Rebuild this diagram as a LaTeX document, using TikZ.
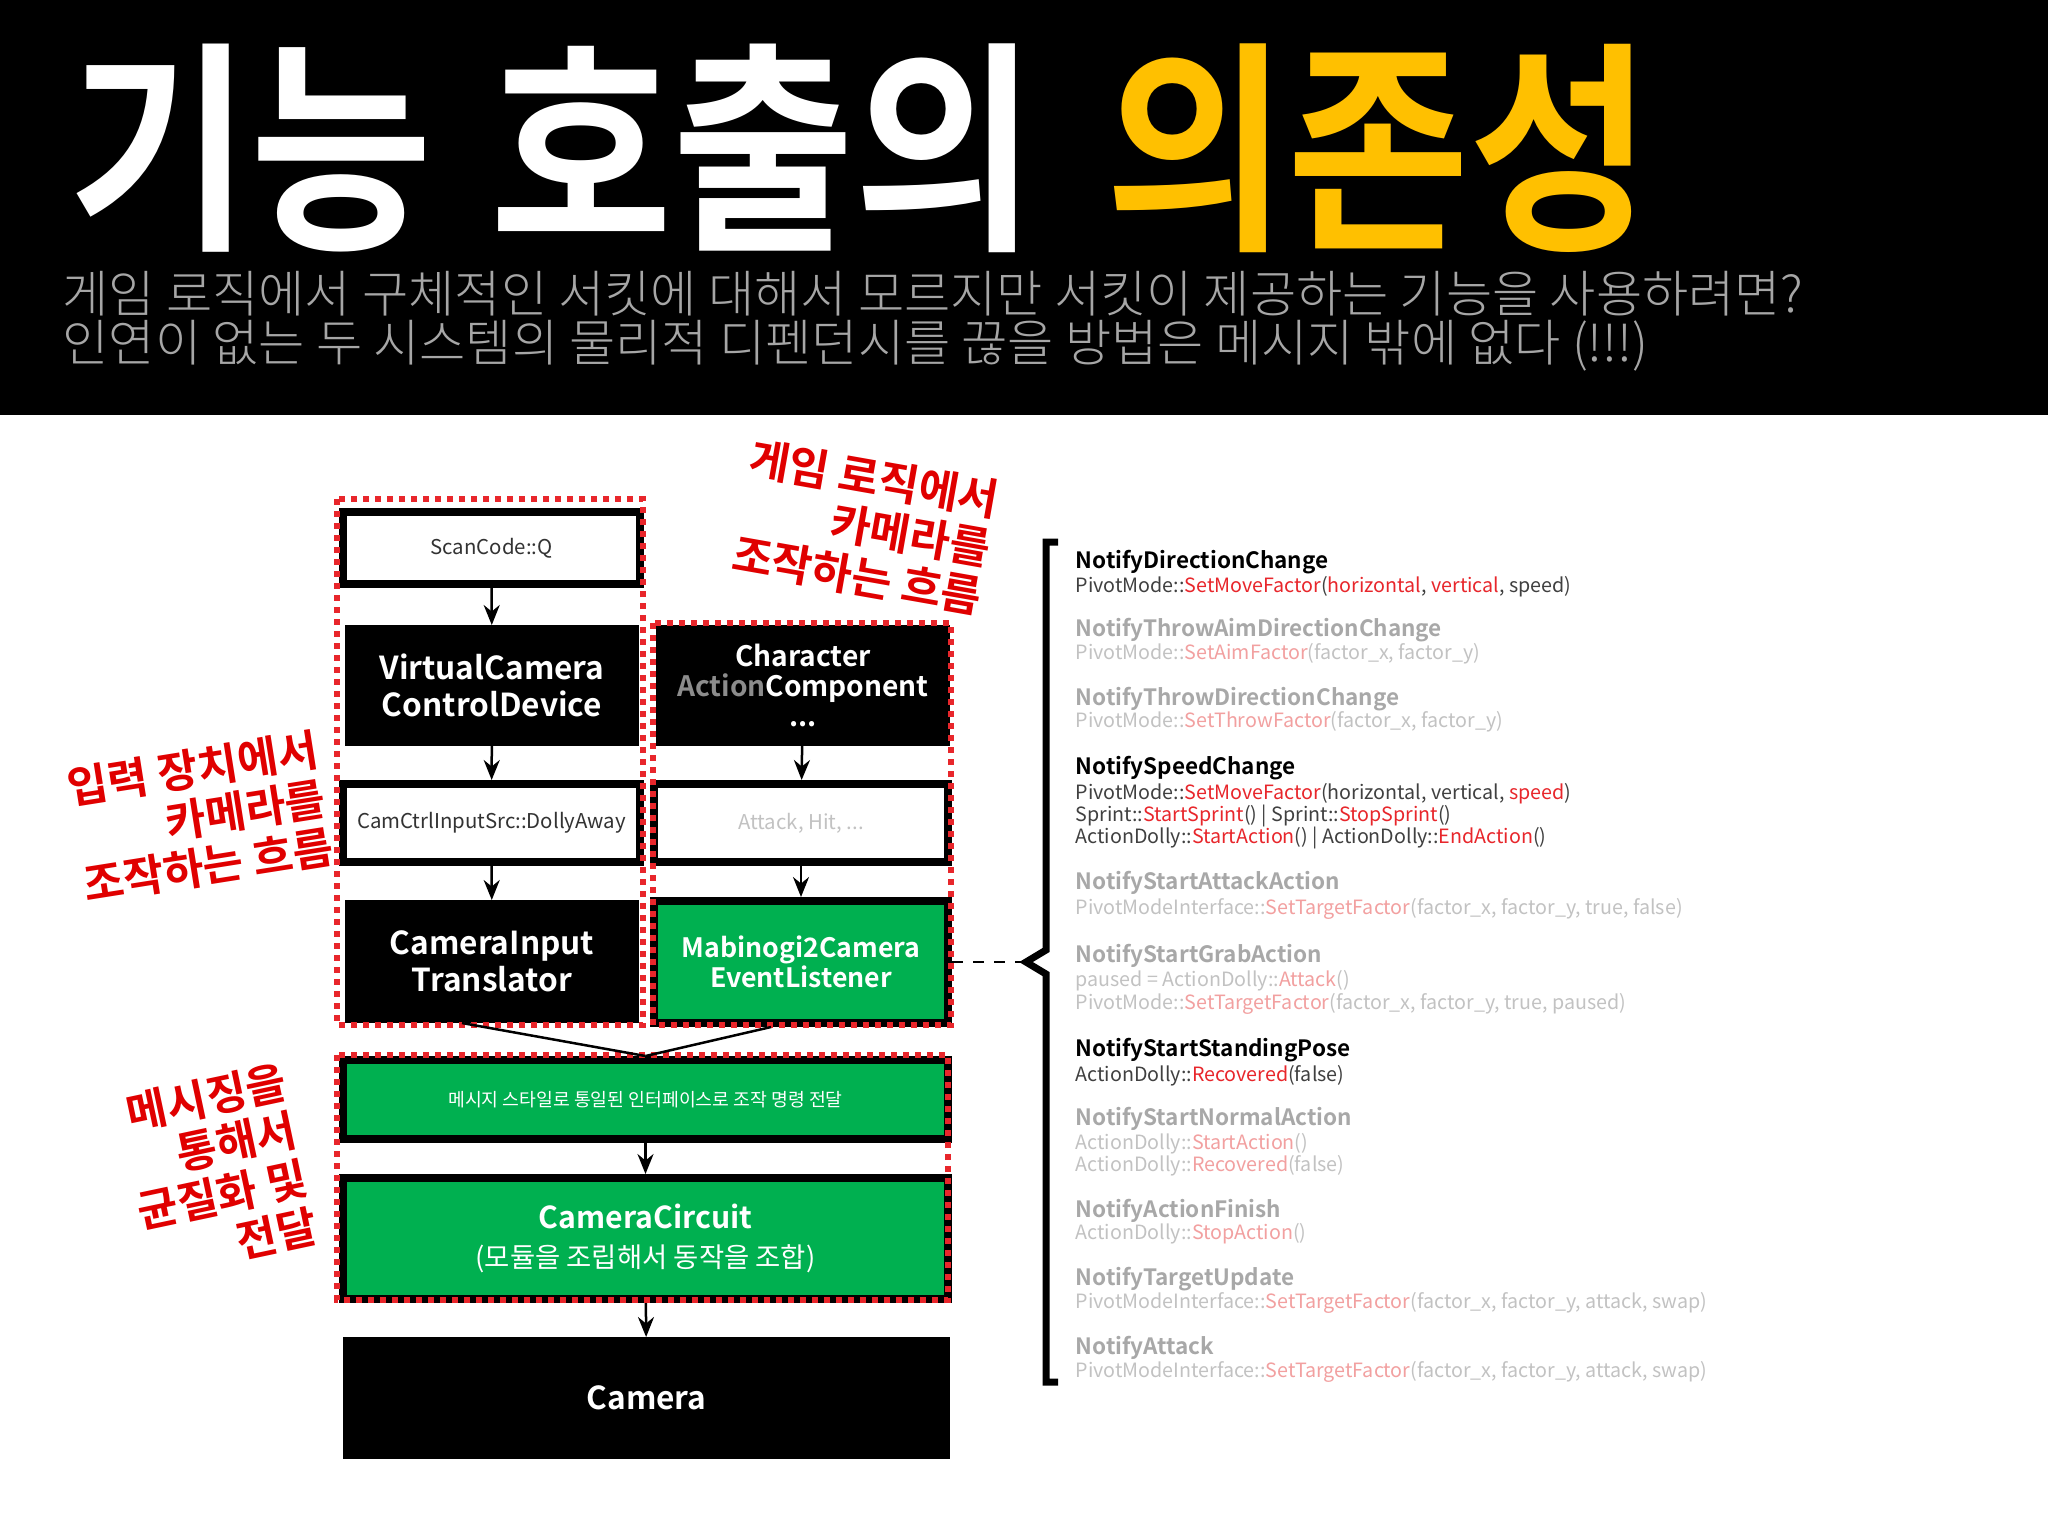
\documentclass[tikz,border=0pt]{standalone}
\usepackage{fontspec}
\setmainfont{Noto Sans CJK KR}[BoldFont={* Bold}]
\newfontfamily\krlight{Noto Sans CJK KR Light}
\usetikzlibrary{arrows.meta}
\definecolor{myred}{HTML}{E8262B}
\definecolor{annred}{HTML}{E00000}
\definecolor{mygreen}{HTML}{00B050}
\definecolor{myyellow}{HTML}{FFC000}
\definecolor{blurgray}{HTML}{A8A8A8}
\definecolor{blurred}{HTML}{F2A0A0}
\newcommand\rd[1]{\textcolor{myred}{#1}}
\newcommand\br[1]{\textcolor{blurred}{#1}}
\tikzset{
 blk/.style={draw=black,fill=black,text=white,font=\bfseries\fontsize{9}{10.5}\selectfont,align=center,inner sep=0,line width=0.8mm},
 wht/.style={draw=black,fill=white,text=black!80,font=\fontsize{5.8}{7}\selectfont,align=center,inner sep=0,line width=0.8mm},
 grn/.style={draw=black,fill=mygreen,text=white,align=center,inner sep=0,line width=0.8mm},
 reddot/.style={draw=myred,line width=0.55mm,dash pattern=on 0.6mm off 0.6mm},
 arr/.style={-{Stealth[length=2mm,width=1.6mm]},line width=0.25mm},
 ann/.style={text=annred,font=\bfseries\fontsize{12.5}{14}\selectfont,align=right,inner sep=0},
 ttl/.style={anchor=base west,inner sep=0,font=\bfseries\fontsize{6.4}{8}\selectfont},
 sub/.style={anchor=base west,inner sep=0,font=\fontsize{5.6}{7}\selectfont,text=black!75},
 bttl/.style={ttl,text=blurgray},
 bsub/.style={sub,text=blurgray!70},
}
\begin{document}
\begin{tikzpicture}[x=0.1mm,y=-0.1mm]
\useasboundingbox (0,0) rectangle (2048,1536);
\fill[white] (0,0) rectangle (2048,1536);
\fill[black] (0,0) rectangle (2048,415);
% title
\node[anchor=base west,inner sep=0,text=white] (t1) at (68,232) {\scalebox{0.88}[1]{\bfseries\fontsize{64}{64}\selectfont 기능}};
\node[anchor=base west,inner sep=0,text=white] (t2) at (490,232) {\scalebox{0.88}[1]{\bfseries\fontsize{64}{64}\selectfont 호출의}};
\node[anchor=base west,inner sep=0,text=myyellow] (t3) at (1105,232) {\scalebox{0.88}[1]{\bfseries\fontsize{64}{64}\selectfont 의존성}};
\node[anchor=base west,inner sep=0,text=black!35,align=left] (s1) at (62,312) {\krlight\fontsize{14.3}{15}\selectfont 게임 로직에서 구체적인 서킷에 대해서 모르지만 서킷이 제공하는 기능을 사용하려면?};
\node[anchor=base west,inner sep=0,text=black!35,align=left] (s2) at (62,361) {\krlight\fontsize{14.3}{15}\selectfont 인연이 없는 두 시스템의 물리적 디펜던시를 끊을 방법은 메시지 밖에 없다 (!!!)};
% boxes
\node[wht,minimum width=29.7mm,minimum height=7.2mm] (scan) at (491.5,548) {ScanCode::Q};
\node[blk,minimum width=28.6mm,minimum height=11.3mm] (vcam) at (492,685.5) {VirtualCamera\\ControlDevice};
\node[wht,minimum width=29.7mm,minimum height=7.8mm] (cci) at (491.5,823) {CamCtrlInputSrc::DollyAway};
\node[blk,minimum width=28.6mm,minimum height=11.5mm] (cit) at (492,961.5) {CameraInput\\Translator};
\node[blk,minimum width=28.6mm,minimum height=11.3mm,font=\bfseries\fontsize{8}{8.6}\selectfont] (chr) at (803,685.5) {Character\\\textcolor{white!55!black}{Action}Component\\...};
\node[wht,minimum width=29.4mm,minimum height=7.8mm,text=blurgray!70] (atk) at (801,823) {Attack, Hit, ...};
\node[grn,minimum width=29.4mm,minimum height=12.2mm,font=\bfseries\fontsize{7.6}{8.6}\selectfont] (mab) at (801,962) {Mabinogi2Camera\\EventListener};
\node[grn,minimum width=60.5mm,minimum height=7.9mm,font=\fontsize{5.2}{6}\selectfont] (msg) at (645.5,1099.5) {메시지 스타일로 통일된 인터페이스로 조작 명령 전달};
\node[grn,minimum width=60.5mm,minimum height=12.1mm] (cc) at (645.5,1238.5) {{\bfseries\fontsize{8.6}{9.5}\selectfont CameraCircuit}\\[-1pt]{\fontsize{7.8}{9}\selectfont (모듈을 조립해서 동작을 조합)}};
\node[blk,minimum width=59.9mm,minimum height=11.4mm] (cam) at (646.5,1398) {Camera};
% red dotted frames
\draw[reddot] (337,499) rectangle (643,1025);
\draw[reddot] (653,623) rectangle (951,1025);
\draw[reddot] (337,1055) rectangle (948,1300);
% arrows
\draw[arr] (scan) -- (vcam);
\draw[arr] (vcam) -- (cci);
\draw[arr] (cci) -- (cit);
\draw[arr] (chr) -- (atk);
\draw[arr] (atk) -- (mab);
\path (cit.south) ++(-30,0) coordinate (ca) (mab.south) ++(-30,0) coordinate (ma);
\draw[line width=0.25mm] (ca) -- (msg.north);
\draw[line width=0.25mm] (ma) -- (msg.north);
\draw[arr] (msg) -- (cc);
\draw[arr] (cc) -- (cam);
% bracket
\coordinate (bt) at (1058,542);
\coordinate (bm) at (1026,962);
\coordinate (bb) at (1058,1382);
\draw[line width=0.7mm] (bt) -- (1046,542) -- (1046,950) -- (bm) -- (1046,974) -- (1046,1382) -- (bb);
\draw[dashed,line width=0.2mm] (mab.east) -- (bm);
% right list
\node[ttl] (n1) at (1075,568) {NotifyDirectionChange};
\node[sub] (n1a) at (1075,592) {PivotMode::\rd{SetMoveFactor}(\rd{horizontal}, \rd{vertical}, speed)};
\node[bttl] (n2) at (1075,636) {NotifyThrowAimDirectionChange};
\node[bsub] (n2a) at (1075,659) {PivotMode::\br{SetAimFactor}(factor\_x, factor\_y)};
\node[bttl] (n3) at (1075,705) {NotifyThrowDirectionChange};
\node[bsub] (n3a) at (1075,727) {PivotMode::\br{SetThrowFactor}(factor\_x, factor\_y)};
\node[ttl] (n4) at (1075,774) {NotifySpeedChange};
\node[sub] (n4a) at (1075,799) {PivotMode::\rd{SetMoveFactor}(horizontal, vertical, \rd{speed})};
\node[sub] (n4b) at (1075,821) {Sprint::\rd{StartSprint}() | Sprint::\rd{StopSprint}()};
\node[sub] (n4c) at (1075,843) {ActionDolly::\rd{StartAction}() | ActionDolly::\rd{EndAction}()};
\node[bttl] (n5) at (1075,889) {NotifyStartAttackAction};
\node[bsub] (n5a) at (1075,914) {PivotModeInterface::\br{SetTargetFactor}(factor\_x, factor\_y, true, false)};
\node[bttl] (n6) at (1075,962) {NotifyStartGrabAction};
\node[bsub] (n6a) at (1075,986) {paused = ActionDolly::\br{Attack}()};
\node[bsub] (n6b) at (1075,1009) {PivotMode::\br{SetTargetFactor}(factor\_x, factor\_y, true, paused)};
\node[ttl] (n7) at (1075,1056) {NotifyStartStandingPose};
\node[sub] (n7a) at (1075,1081) {ActionDolly::\rd{Recovered}(false)};
\node[bttl] (n8) at (1075,1125) {NotifyStartNormalAction};
\node[bsub] (n8a) at (1075,1149) {ActionDolly::\br{StartAction}()};
\node[bsub] (n8b) at (1075,1171) {ActionDolly::\br{Recovered}(false)};
\node[bttl] (n9) at (1075,1217) {NotifyActionFinish};
\node[bsub] (n9a) at (1075,1239) {ActionDolly::\br{StopAction}()};
\node[bttl] (n10) at (1075,1285) {NotifyTargetUpdate};
\node[bsub] (n10a) at (1075,1308) {PivotModeInterface::\br{SetTargetFactor}(factor\_x, factor\_y, attack, swap)};
\node[bttl] (n11) at (1075,1354) {NotifyAttack};
\node[bsub] (n11a) at (1075,1377) {PivotModeInterface::\br{SetTargetFactor}(factor\_x, factor\_y, attack, swap)};
% annotations
\node[ann,rotate=-10,anchor=north east] (a1) at (1003,480) {게임 로직에서\\카메라를\\조작하는 흐름};
\node[ann,rotate=9,anchor=north east] (a2) at (315,728) {입력 장치에서\\카메라를\\조작하는 흐름};
\node[ann,rotate=12,anchor=north east] (a3) at (282,1060) {메시징을\\통해서\\균질화 및\\전달};
\end{tikzpicture}
\end{document}
